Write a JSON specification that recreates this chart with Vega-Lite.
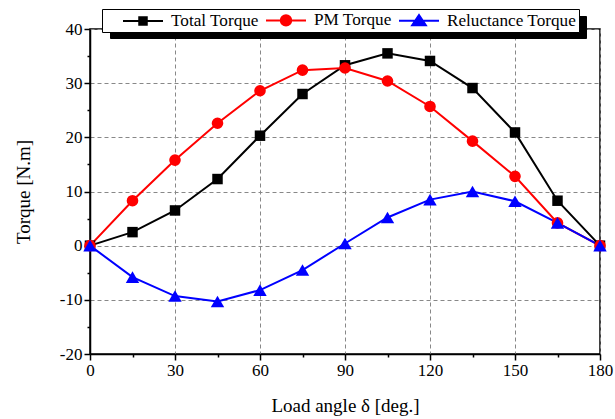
{
  "$schema": "https://vega.github.io/schema/vega-lite/v6.json",
  "width": 510,
  "height": 325,
  "autosize": "none",
  "padding": {"left": 90, "top": 29, "right": 15, "bottom": 65},
  "background": "white",
  "config": {
    "view": {"stroke": "black", "strokeWidth": 1.5},
    "font": "Liberation Serif",
    "legend": {
      "orient": "none",
      "direction": "horizontal",
      "padding": 2,
      "labelFont": "Liberation Serif",
      "labelFontSize": 17.2,
      "symbolSize": 256,
      "symbolStrokeWidth": 2,
      "labelOffset": 19,
      "columnPadding": 3,
      "labelLimit": 300,
      "titleOrient": "left",
      "titleFontSize": 1,
      "titlePadding": 30
    },
    "axis": {
      "domainColor": "black",
      "domainWidth": 1.5,
      "tickColor": "black",
      "tickWidth": 1.5,
      "labelFont": "Liberation Serif",
      "labelFontSize": 17,
      "labelColor": "black",
      "titleFont": "Liberation Serif",
      "titleFontSize": 19,
      "titleFontWeight": "normal",
      "titleColor": "black",
      "gridColor": "#888888",
      "gridDash": [4, 3],
      "gridWidth": 1
    }
  },
  "data": {
    "values": [
      {"angle": 0, "series": "Total Torque", "torque": 0},
      {"angle": 15, "series": "Total Torque", "torque": 2.5},
      {"angle": 30, "series": "Total Torque", "torque": 6.5},
      {"angle": 45, "series": "Total Torque", "torque": 12.3},
      {"angle": 60, "series": "Total Torque", "torque": 20.3},
      {"angle": 75, "series": "Total Torque", "torque": 28.0},
      {"angle": 90, "series": "Total Torque", "torque": 33.3},
      {"angle": 105, "series": "Total Torque", "torque": 35.5},
      {"angle": 120, "series": "Total Torque", "torque": 34.1},
      {"angle": 135, "series": "Total Torque", "torque": 29.1},
      {"angle": 150, "series": "Total Torque", "torque": 20.9},
      {"angle": 165, "series": "Total Torque", "torque": 8.3},
      {"angle": 180, "series": "Total Torque", "torque": 0},
      {"angle": 0, "series": "PM Torque", "torque": 0},
      {"angle": 15, "series": "PM Torque", "torque": 8.3},
      {"angle": 30, "series": "PM Torque", "torque": 15.8},
      {"angle": 45, "series": "PM Torque", "torque": 22.6},
      {"angle": 60, "series": "PM Torque", "torque": 28.6},
      {"angle": 75, "series": "PM Torque", "torque": 32.4},
      {"angle": 90, "series": "PM Torque", "torque": 32.8},
      {"angle": 105, "series": "PM Torque", "torque": 30.4},
      {"angle": 120, "series": "PM Torque", "torque": 25.7},
      {"angle": 135, "series": "PM Torque", "torque": 19.3},
      {"angle": 150, "series": "PM Torque", "torque": 12.8},
      {"angle": 165, "series": "PM Torque", "torque": 4.2},
      {"angle": 180, "series": "PM Torque", "torque": 0},
      {"angle": 0, "series": "Reluctance Torque", "torque": 0},
      {"angle": 15, "series": "Reluctance Torque", "torque": -5.8},
      {"angle": 30, "series": "Reluctance Torque", "torque": -9.3},
      {"angle": 45, "series": "Reluctance Torque", "torque": -10.3},
      {"angle": 60, "series": "Reluctance Torque", "torque": -8.2},
      {"angle": 75, "series": "Reluctance Torque", "torque": -4.5},
      {"angle": 90, "series": "Reluctance Torque", "torque": 0.4},
      {"angle": 105, "series": "Reluctance Torque", "torque": 5.2},
      {"angle": 120, "series": "Reluctance Torque", "torque": 8.5},
      {"angle": 135, "series": "Reluctance Torque", "torque": 10.0},
      {"angle": 150, "series": "Reluctance Torque", "torque": 8.2},
      {"angle": 165, "series": "Reluctance Torque", "torque": 4.2},
      {"angle": 180, "series": "Reluctance Torque", "torque": 0}
    ]
  },
  "encoding": {
    "x": {
      "field": "angle",
      "type": "quantitative",
      "scale": {"domain": [0, 180], "nice": false, "zero": false},
      "axis": {
        "title": "Load angle δ [deg.]",
        "values": [0, 15, 30, 45, 60, 75, 90, 105, 120, 135, 150, 165, 180],
        "labelExpr": "datum.value % 30 === 0 ? '' + datum.value : ''",
        "tickSize": {"condition": {"test": "datum.value % 30 === 0", "value": 6}, "value": 3},
        "gridOpacity": {"condition": {"test": "datum.value % 30 === 0", "value": 1}, "value": 0},
        "labelPadding": 2,
        "titlePadding": 18,
        "labelFlush": false,
        "labelOverlap": false
      }
    },
    "y": {
      "field": "torque",
      "type": "quantitative",
      "scale": {"domain": [-20, 40], "nice": false, "zero": false},
      "axis": {
        "title": "Torque [N.m]",
        "values": [-20, -15, -10, -5, 0, 5, 10, 15, 20, 25, 30, 35, 40],
        "labelExpr": "datum.value % 10 === 0 ? '' + datum.value : ''",
        "tickSize": {"condition": {"test": "datum.value % 10 === 0", "value": 6}, "value": 3},
        "gridOpacity": {"condition": {"test": "datum.value % 10 === 0", "value": 1}, "value": 0},
        "labelPadding": 2,
        "titlePadding": 26,
        "labelFlush": false,
        "labelOverlap": false
      }
    }
  },
  "layer": [
    {
      "mark": {"type": "line", "strokeWidth": 2},
      "encoding": {
        "color": {
          "field": "series",
          "type": "nominal",
          "sort": ["Total Torque", "PM Torque", "Reluctance Torque"],
          "scale": {"domain": ["Total Torque", "PM Torque", "Reluctance Torque"], "range": ["#000000", "#ff0000", "#0000ff"]},
          "legend": {
            "title": " ",
            "legendX": 12,
            "legendY": -20,
            "zindex": 3,
            "strokeColor": "black",
            "fillColor": "white",
            "labelColor": "black",
            "encode": {
              "symbols": {
                "update": {
                  "shape": {"signal": "datum.value === 'Total Torque' ? 'M-2.5,0H2.5M-0.47,-0.47H0.47V0.47H-0.47Z' : datum.value === 'PM Torque' ? 'M-2.5,0H2.5M0.65,0A0.65,0.65 0 1,1 -0.65,0A0.65,0.65 0 1,1 0.65,0Z' : 'M-2.5,0H2.5M0,-0.72L0.85,0.55L-0.85,0.55Z'"},
                  "fill": {"scale": "color", "field": "value"},
                  "stroke": {"scale": "color", "field": "value"},
                  "fillOpacity": {"value": 1},
                  "strokeWidth": {"value": 2}
                }
              }
            }
          }
        },
        "opacity": {
          "field": "series",
          "type": "nominal",
          "scale": {"domain": ["Reluctance Torque", "PM Torque", "Total Torque"], "range": [1, 1, 1]},
          "legend": {
            "title": " ",
            "legendX": 20,
            "legendY": -13,
            "zindex": 2,
            "strokeColor": "black",
            "fillColor": "black",
            "labelColor": "black",
            "labelExpr": "''",
            "columnPadding": 150.5,
            "encode": {
              "symbols": {
                "update": {
                  "shape": {"value": "M-2.5,0H2.5"},
                  "fill": {"value": "black"},
                  "stroke": {"value": "black"},
                  "strokeWidth": {"value": 2}
                }
              }
            }
          }
        }
      }
    },
    {
      "transform": [{"filter": "datum.series === 'Total Torque'"}],
      "mark": {"type": "point", "filled": true, "opacity": 1, "shape": "square", "size": 110, "color": "#000000"}
    },
    {
      "transform": [{"filter": "datum.series === 'PM Torque'"}],
      "mark": {"type": "point", "filled": true, "opacity": 1, "shape": "circle", "size": 135, "color": "#ff0000"}
    },
    {
      "transform": [{"filter": "datum.series === 'Reluctance Torque'"}],
      "mark": {"type": "point", "filled": true, "opacity": 1, "shape": "triangle-up", "size": 180, "color": "#0000ff"}
    }
  ]
}
